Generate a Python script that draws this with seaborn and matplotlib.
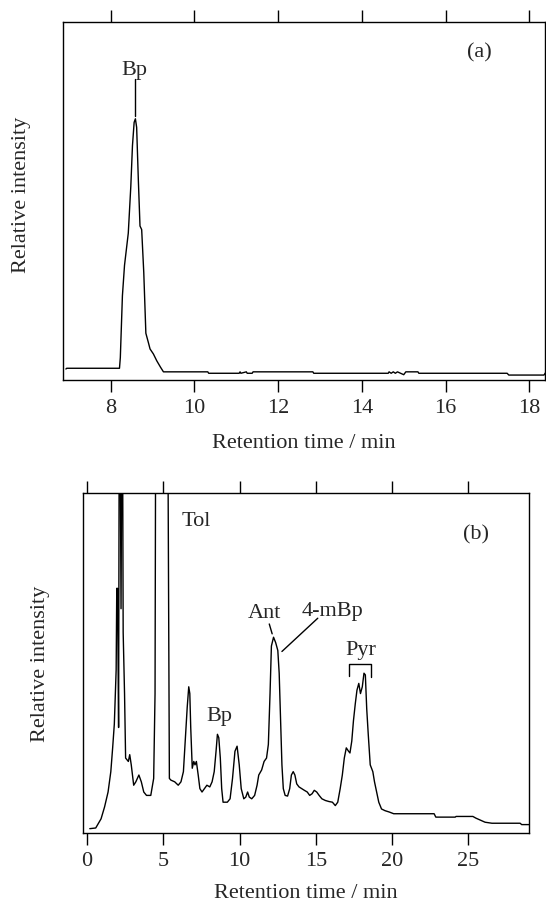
import numpy as np
import pandas as pd
import matplotlib
matplotlib.use("Agg")
import matplotlib.pyplot as plt
import seaborn as sns

# ---- data (a) ----
time_a = [6.93, 6.95, 8.21, 8.23, 8.28, 8.33, 8.42, 8.48, 8.52, 8.56, 8.59, 8.62, 8.66, 8.70,
          8.74, 8.79, 8.84, 8.90, 8.94, 9.02, 9.10, 9.19, 9.26, 10.32, 10.34, 11.07, 11.09,
          11.11, 11.24, 11.26, 11.38, 11.40, 11.60, 11.62, 12.83, 12.85, 14.63, 14.65, 14.70,
          14.75, 14.80, 14.85, 15.00, 15.05, 15.34, 15.36, 17.47, 17.51, 18.35, 18.39]
int_a = [0.030, 0.032, 0.032, 0.062, 0.235, 0.32, 0.41, 0.54, 0.655, 0.72, 0.73, 0.706, 0.56,
         0.43, 0.42, 0.30, 0.13, 0.104, 0.086, 0.072, 0.053, 0.035, 0.022, 0.022, 0.018, 0.018,
         0.022, 0.018, 0.022, 0.018, 0.018, 0.022, 0.022, 0.022, 0.022, 0.018, 0.018, 0.022,
         0.018, 0.022, 0.018, 0.022, 0.014, 0.022, 0.022, 0.018, 0.018, 0.013, 0.013, 0.020]

# ---- data (b) ----
time_b = [0.18, 0.57, 0.92, 1.15, 1.38, 1.56, 1.68, 1.79, 1.91, 1.95, 2.00, 2.07, 2.11, 2.17,
          2.23, 2.28, 2.33, 2.37, 2.46, 2.53, 2.71, 2.80, 2.90, 3.06, 3.20, 3.40, 3.56, 3.72,
          3.90, 4.18, 4.37, 4.46, 4.50, 4.60, 5.20, 5.30, 5.40, 5.50, 5.75, 5.98, 6.16, 6.32,
          6.44, 6.57, 6.67, 6.74, 6.80, 6.90, 7.00, 7.08, 7.17, 7.29, 7.40, 7.54, 7.70, 7.86,
          8.05, 8.20, 8.34, 8.46, 8.55, 8.64, 8.74, 8.83, 8.92, 9.20, 9.38, 9.54, 9.70, 9.84,
          9.98, 10.11, 10.28, 10.41, 10.53, 10.64, 10.80, 10.99, 11.15, 11.26, 11.45, 11.61,
          11.77, 11.89, 12.00, 12.09, 12.23, 12.37, 12.51, 12.60, 12.69, 12.78, 12.87, 12.99,
          13.15, 13.29, 13.40, 13.52, 13.63, 13.75, 13.90, 14.07, 14.25, 14.44, 14.60, 14.76,
          14.90, 15.06, 15.22, 15.40, 15.63, 15.86, 16.09, 16.28, 16.44, 16.60, 16.74, 16.87,
          17.00, 17.15, 17.24, 17.36, 17.47, 17.59, 17.70, 17.82, 17.93, 18.05, 18.16, 18.25,
          18.34, 18.44, 18.57, 18.74, 18.85, 18.99, 19.13, 19.31, 19.54, 19.82, 20.11, 22.76,
          22.87, 24.14, 24.20, 25.30, 25.50, 25.86, 26.10, 26.55, 28.40, 28.50, 29.20]
int_b = [0.012, 0.014, 0.041, 0.076, 0.12, 0.18, 0.25, 0.32, 0.48, 0.72, 0.72, 0.31, 1.20,
         1.20, 0.66, 1.20, 1.20, 0.59, 0.41, 0.22, 0.21, 0.23, 0.20, 0.14, 0.15, 0.17, 0.15,
         0.12, 0.11, 0.11, 0.16, 0.41, 1.20, 1.20, 1.20, 1.20, 0.16, 0.155, 0.15, 0.14, 0.15,
         0.18, 0.27, 0.37, 0.43, 0.41, 0.31, 0.19, 0.21, 0.20, 0.21, 0.17, 0.13, 0.12, 0.13,
         0.14, 0.135, 0.15, 0.18, 0.24, 0.29, 0.28, 0.22, 0.13, 0.09, 0.09, 0.10, 0.16, 0.24,
         0.255, 0.20, 0.13, 0.10, 0.105, 0.12, 0.105, 0.10, 0.11, 0.14, 0.17, 0.185, 0.21,
         0.22, 0.26, 0.41, 0.55, 0.576, 0.56, 0.537, 0.47, 0.34, 0.20, 0.13, 0.11, 0.108, 0.13,
         0.17, 0.18, 0.17, 0.144, 0.135, 0.13, 0.125, 0.12, 0.11, 0.115, 0.125, 0.12, 0.11,
         0.10, 0.095, 0.092, 0.09, 0.08, 0.09, 0.13, 0.17, 0.22, 0.25, 0.24, 0.235, 0.27, 0.33,
         0.38, 0.42, 0.44, 0.41, 0.43, 0.47, 0.465, 0.365, 0.29, 0.20, 0.18, 0.15, 0.12, 0.09,
         0.07, 0.065, 0.061, 0.056, 0.056, 0.046, 0.046, 0.048, 0.048, 0.043, 0.036, 0.031,
         0.028, 0.028, 0.024, 0.024]

xticks_a = [8, 10, 12, 14, 16, 18]
xticks_b = [0, 5, 10, 15, 20, 25]

sns.set_style("ticks")
plt.rcParams['font.family'] = ['Liberation Serif', 'DejaVu Serif']

FS = 16
fig = plt.figure(figsize=(5.46, 9.03), dpi=100)
ax1 = fig.add_axes([0.1148, 0.5784, 0.8834, 0.3958])
ax2 = fig.add_axes([0.1526, 0.0767, 0.8168, 0.3759])

df_a = pd.DataFrame({"t": time_a, "y": int_a})
df_b = pd.DataFrame({"t": time_b, "y": int_b})
sns.lineplot(data=df_a, x="t", y="y", ax=ax1, color="black", lw=1.0, estimator=None, sort=False)
sns.lineplot(data=df_b, x="t", y="y", ax=ax2, color="black", lw=1.0, estimator=None, sort=False)

for ax, ticks, xl in [(ax1, xticks_a, (6.853, 18.375)), (ax2, xticks_b, (-0.243, 29.0))]:
    ax.set_xlim(*xl)
    ax.set_ylim(0, 1)
    ax.set_xticks(ticks)
    ax.set_yticks([])
    ax.tick_params(axis='x', which='both', top=True, bottom=True, labeltop=False,
                   direction='out', length=8.3, width=1.0, labelsize=FS, pad=5, color='black')
    for s in ax.spines.values():
        s.set_linewidth(1.0)
        s.set_color('black')
    ax.set_xlabel("Retention time / min", fontsize=FS)
    ax.set_ylabel("Relative intensity", fontsize=FS)

ax1.xaxis.set_label_coords(0.5, -0.15)
ax1.yaxis.set_label_coords(-0.066, 0.521)
ax2.xaxis.set_label_coords(0.5, -0.148)
ax2.yaxis.set_label_coords(-0.0747, 0.5)

# annotations (a)
ax1.text(8.57, 0.869, "Bp", fontsize=FS, ha='center', va='center')
ax1.plot([8.573, 8.573], [0.841, 0.738], color='black', lw=1.0)
ax1.text(16.81, 0.916, "(a)", fontsize=FS, ha='center', va='center')

# annotations (b)
ax2.text(7.13, 0.92, "Tol", fontsize=FS, ha='center', va='center')
ax2.text(25.5, 0.88, "(b)", fontsize=FS, ha='center', va='center')
ax2.text(11.61, 0.65, "Ant", fontsize=FS, ha='center', va='center')
ax2.plot([11.95, 12.14], [0.615, 0.586], color='black', lw=1.0)
ax2.text(16.1, 0.655, "4-mBp", fontsize=FS, ha='center', va='center')
ax2.plot([15.13, 12.78], [0.632, 0.534], color='black', lw=1.0)
ax2.text(8.67, 0.345, "Bp", fontsize=FS, ha='center', va='center')
ax2.text(17.93, 0.54, "Pyr", fontsize=FS, ha='center', va='center')
ax2.plot([17.17, 17.17, 18.62, 18.62], [0.463, 0.4975, 0.4975, 0.458], color='black', lw=1.0)

fig.savefig("out.png", dpi=100)
